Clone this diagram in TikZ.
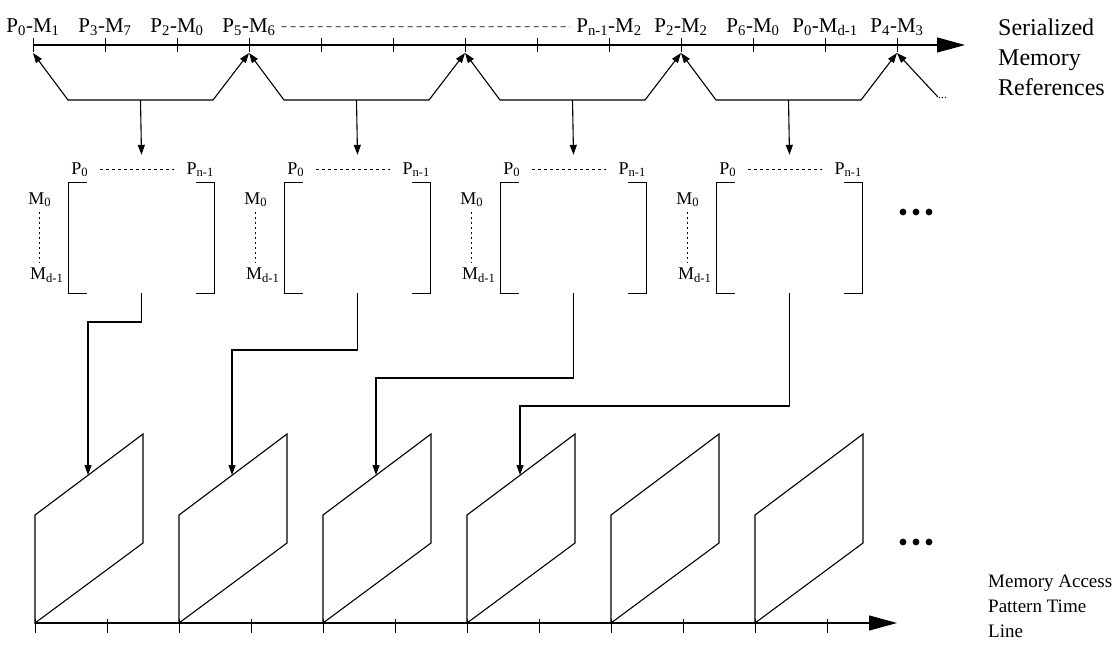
\documentclass[tikz,border=0pt]{standalone}
\usepackage{fontspec}
\setmainfont{Liberation Serif}
\usetikzlibrary{arrows.meta,positioning,calc}
\newcommand{\pmref}[2]{P\textsubscript{#1}-M\textsubscript{#2}}

\tikzset{
    ink/.style={draw=black, line width=1.1pt},
    refTip/.style={ink, -{Triangle[length=10pt,width=7pt]}},
    bigTip/.style={ink, -{Triangle[length=28pt,width=15pt]}},
    tick/.style={ink, line width=0.9pt},
    accessBox/.style={minimum width=145pt, minimum height=110pt, inner sep=0pt}
}

\begin{document}
\begin{tikzpicture}[x=1pt, y=-1pt, font=\fontsize{18pt}{20pt}\selectfont]
    \useasboundingbox (0,0) rectangle (1118,646);

    % serialized references
    \draw[bigTip] (33,45) -- (965,45);
    \foreach \i in {0,...,12} {
        \coordinate (t\i) at ({33+72*\i},53);
        \draw[tick] ({33+72*\i},38) -- ({33+72*\i},52);
    }
    \foreach \i/\a/\b in {0/0/1, 1/3/7, 2/2/0, 3/5/6, 8/n-1/2, 9/2/2, 10/6/0, 11/0/d-1, 12/4/3}
        \node[inner sep=0pt, anchor=base, font=\fontsize{21pt}{22pt}\selectfont] (lab\i) at ({33+72*\i},32) {\pmref{\a}{\b}};
    \draw[ink, line width=0.7pt, dash pattern=on 5pt off 4pt, shorten <=6pt, shorten >=6pt] (lab3.east) -- (lab8.west);

    \foreach \i [evaluate=\i as \j using int(3*\i), evaluate=\i as \k using int(3*\i+3)] in {0,...,3} {
        \coordinate (bl\i) at ({68+216*\i},100);
        \coordinate (br\i) at ({213+216*\i},100);
        \coordinate (bm\i) at ({140.5+216*\i},100);
        \draw[ink, {Triangle[length=10pt,width=7pt]}-{Triangle[length=10pt,width=7pt]}]
            (t\j) -- (bl\i) -- (br\i) -- (t\k);
    }
    \node[inner sep=0pt, anchor=west, font=\fontsize{12pt}{12pt}\selectfont] (moreRef) at (938,98) {...};
    \draw[refTip] (moreRef.north west) -- (t12);

    % access matrices
    \foreach \i in {0,...,3} {
        \node[accessBox] (m\i) at ({141.5+216*\i},238) {};
        \draw[ink] ([xshift=18pt]m\i.north west) -- (m\i.north west) -- (m\i.south west) -- ([xshift=18pt]m\i.south west);
        \draw[ink] ([xshift=-18pt]m\i.north east) -- (m\i.north east) -- (m\i.south east) -- ([xshift=-18pt]m\i.south east);
        \node[inner sep=0pt] (pa\i) at ([xshift=11pt,yshift=13pt]m\i.north west) {P\textsubscript{0}};
        \node[inner sep=0pt] (pb\i) at ([xshift=-14pt,yshift=13pt]m\i.north east) {P\textsubscript{n-1}};
        \node[inner sep=0pt] (ma\i) at ([xshift=-29pt,yshift=-17pt]m\i.north west) {M\textsubscript{0}};
        \node[inner sep=0pt] (mb\i) at ([xshift=-22pt,yshift=18pt]m\i.south west) {M\textsubscript{d-1}};
        \draw[ink, line width=0.7pt, dash pattern=on 3pt off 3pt, shorten <=12pt, shorten >=12pt] (pa\i.east) -- (pb\i.west);
        \draw[ink, line width=0.7pt, dash pattern=on 2pt off 3pt, shorten <=5pt, shorten >=5pt] (ma\i.south) -- (ma\i.south |- mb\i.north);
        \draw[refTip] (bm\i) -- ([yshift=28pt]m\i.north);
    }
    \foreach \y in {212,542}
        \foreach \dx in {0,13,26}
            \fill (903+\dx,\y) circle (3.4pt);

    % access pattern time line
    \foreach \i in {0,...,5} {
        \coordinate (pg\i) at ({35+144*\i},623);
        \coordinate (in\i) at ({88+144*\i},475);
        \draw[ink] (pg\i) -- ++(0,-108) -- ++(108,-81) -- ++(0,109) -- cycle;
    }
    \draw[bigTip] (pg0) -- (897,623);
    \foreach \i in {0,...,11}
        \draw[tick] ({35+72*\i},619) -- ({35+72*\i},633);

    \foreach \i/\y in {0/322, 1/350, 2/378, 3/406}
        \draw[refTip] (m\i.south) -- (m\i.south |- 0,\y) -- (in\i |- 0,\y) -- (in\i);

    \node[anchor=base west, align=left, inner sep=0pt, font=\fontsize{24pt}{30pt}\selectfont] (serial) at (998,95) {Serialized\\Memory\\References};
    \node[anchor=base west, align=left, inner sep=0pt, font=\fontsize{19pt}{25pt}\selectfont] (timeline) at (988,637) {Memory Access\\Pattern Time\\Line};
\end{tikzpicture}
\end{document}
